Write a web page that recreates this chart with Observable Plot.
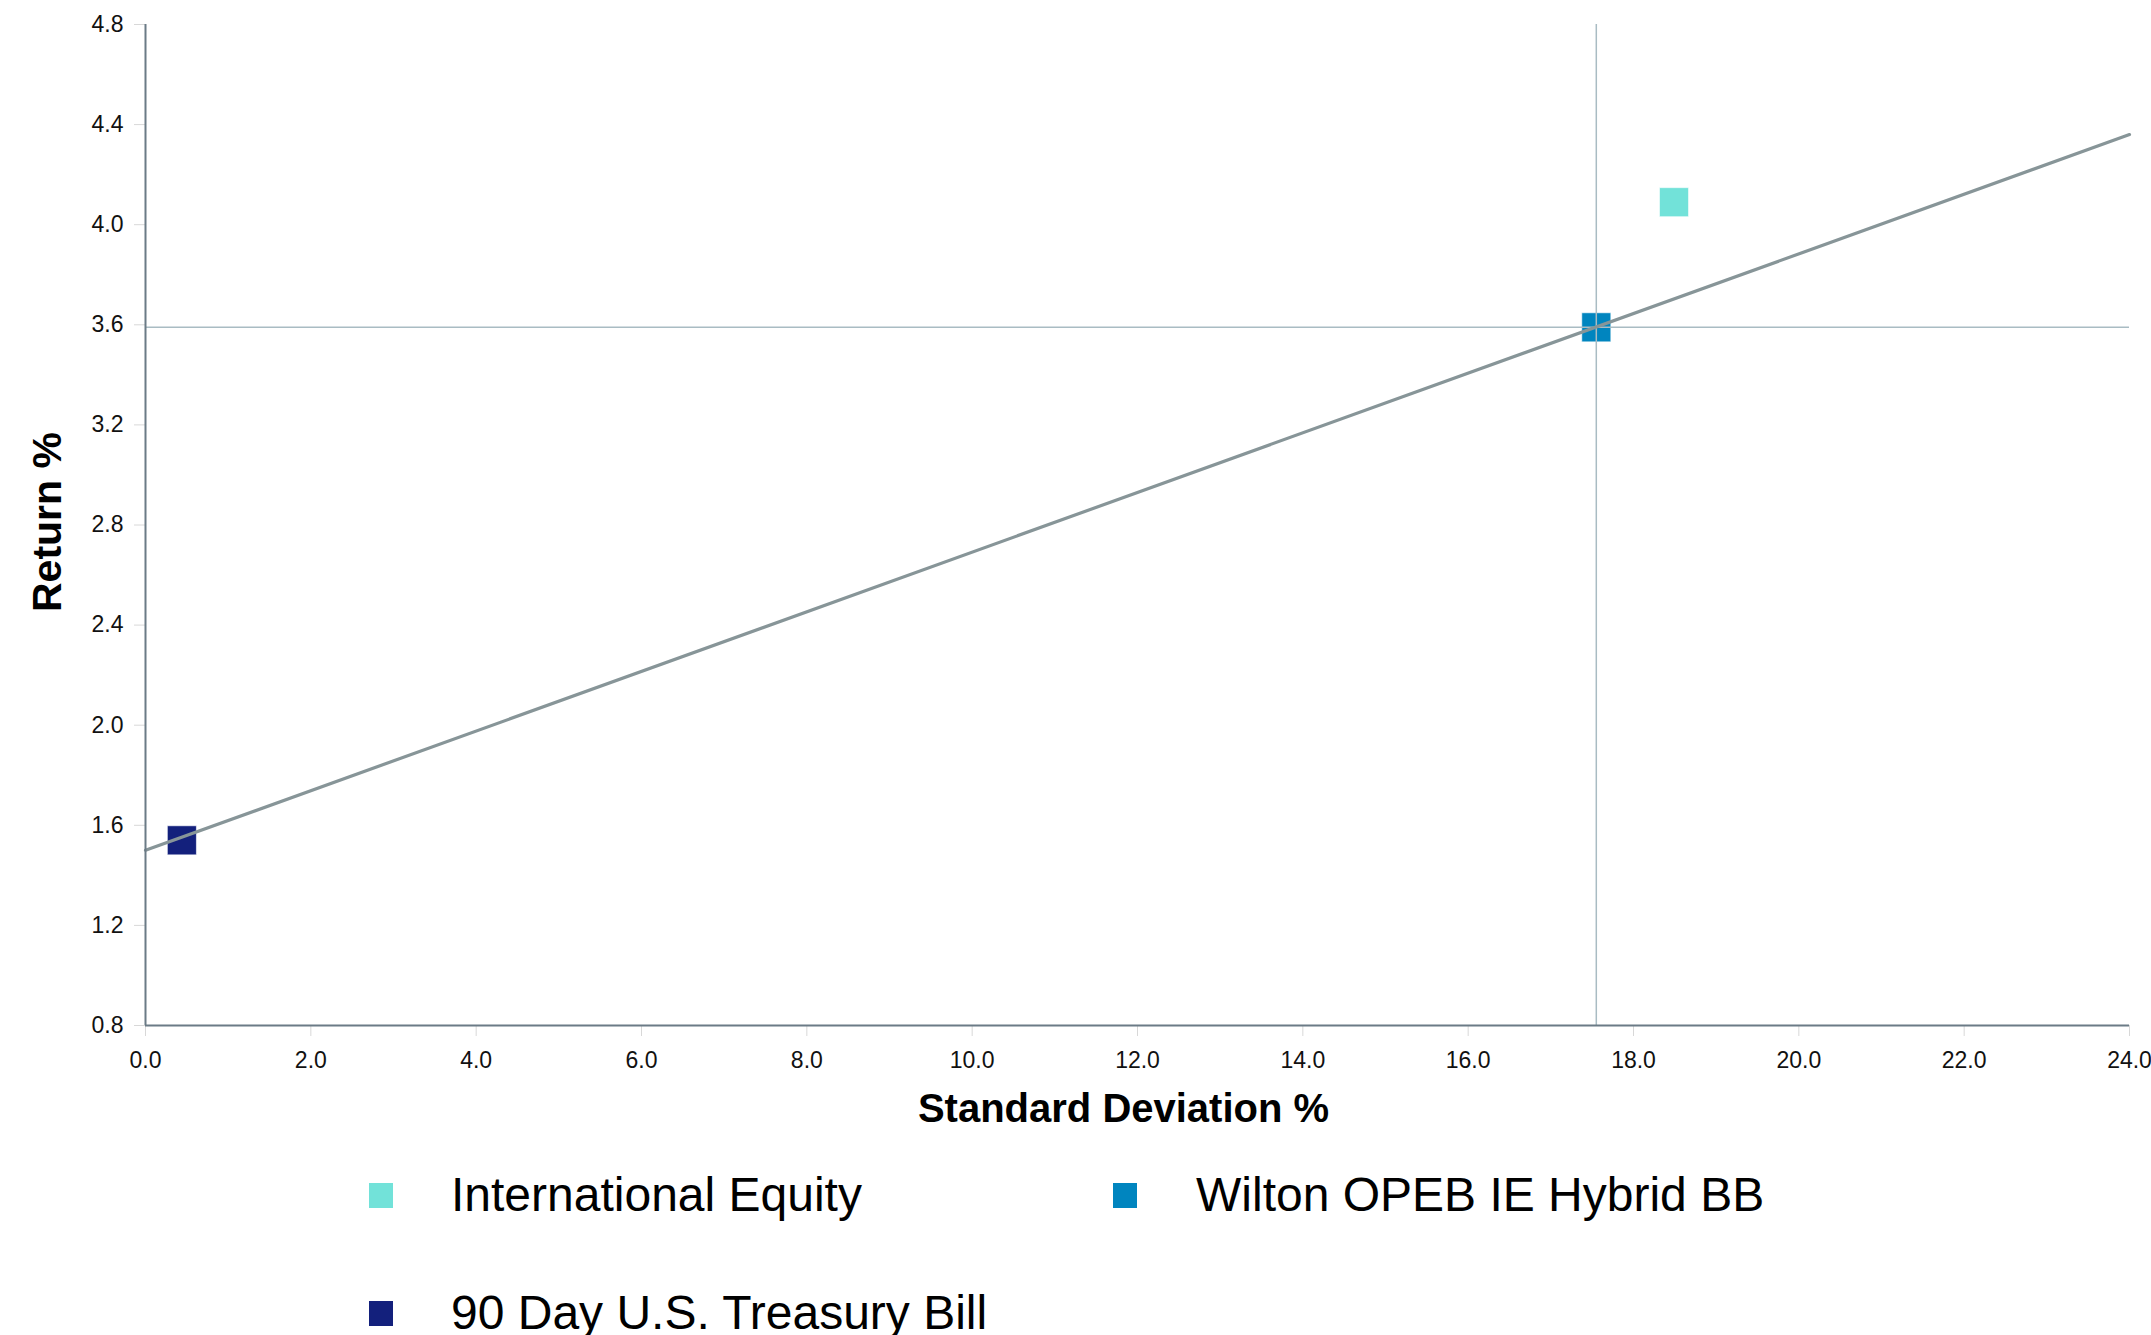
<!DOCTYPE html>
<html>
<head>
<meta charset="utf-8">
<script src="https://cdn.jsdelivr.net/npm/d3@7"></script>
<script src="https://cdn.jsdelivr.net/npm/@observablehq/plot@0.6"></script>
<style>
  html, body { margin: 0; padding: 0; background: #fff; }
  #wrap { position: relative; width: 2151px; height: 1335px; overflow: hidden; font-family: "Liberation Sans", Arial, sans-serif; }
  .lg-mark { position: absolute; width: 24px; height: 25px; }
  .lg-text { position: absolute; font-size: 48px; line-height: 48px; color: #000; white-space: nowrap; }
</style>
</head>
<body>
<div id="wrap"></div>
<script>
// ---- data ----
const seriesNames = ["International Equity", "Wilton OPEB IE Hybrid BB", "90 Day U.S. Treasury Bill"];
const stdDev = [18.49, 17.55, 0.44];
const returns = [4.09, 3.59, 1.54];
const seriesColors = ["#72e2d9", "#0085bf", "#13207c"];
const marketLineX = [0, 24];
const marketLineY = [1.50, 4.36];
const xTicks = [0, 2, 4, 6, 8, 10, 12, 14, 16, 18, 20, 22, 24];
const yTicks = [0.8, 1.2, 1.6, 2.0, 2.4, 2.8, 3.2, 3.6, 4.0, 4.4, 4.8];
const xTitle = "Standard Deviation %";
const yTitle = "Return %";
const benchmarkIndex = 1; // crosshair at Wilton OPEB IE Hybrid BB

const points = seriesNames.map((name, i) => ({name, sd: stdDev[i], ret: returns[i]}));
const linePts = marketLineX.map((x, i) => ({x, y: marketLineY[i]}));
const fmt = d3.format(".1f");
const axisColor = "#6b7b86";

const chart = Plot.plot({
  width: 2151,
  height: 1150,
  marginLeft: 145,
  marginRight: 22,
  marginTop: 24,
  marginBottom: 125,
  x: {domain: [0, 24]},
  y: {domain: [0.8, 4.8]},
  color: {domain: seriesNames, range: seriesColors},
  style: {fontFamily: '"Liberation Sans", Arial, sans-serif', fontSize: "23px", background: "white", color: "#111"},
  marks: [
    Plot.axisX({ticks: xTicks, tickFormat: fmt, tickSize: 11, tickPadding: 15, stroke: "#d8d8d8", fill: "#111", label: null}),
    Plot.axisY({ticks: yTicks, tickFormat: fmt, tickSize: 11, tickPadding: 11, stroke: "#d8d8d8", fill: "#111", label: null}),
    Plot.dot(points, {x: "sd", y: "ret", fill: "name", symbol: "square", r: 16.4, stroke: "white", strokeOpacity: 0.6, strokeWidth: 1}),
    Plot.ruleX([stdDev[benchmarkIndex]], {stroke: "#a9bcc3", strokeWidth: 1.5}),
    Plot.ruleY([returns[benchmarkIndex]], {stroke: "#a9bcc3", strokeWidth: 1.5}),
    Plot.line(linePts, {x: "x", y: "y", stroke: "#879598", strokeWidth: 3.2}),
    Plot.ruleX([0], {stroke: axisColor, strokeWidth: 2}),
    Plot.ruleY([0.8], {stroke: axisColor, strokeWidth: 2}),
    Plot.text([xTitle], {text: d => d, frameAnchor: "bottom", dx: -14, dy: 84, lineAnchor: "middle", fontSize: 40, fontWeight: "bold", fill: "#000"}),
    Plot.text([yTitle], {text: d => d, frameAnchor: "left", dx: -98, dy: -3, rotate: -90, textAnchor: "middle", lineAnchor: "middle", fontSize: 41, fontWeight: "bold", fill: "#000"})
  ]
});

const wrap = document.getElementById("wrap");
chart.style.position = "absolute";
chart.style.left = "0px";
chart.style.top = "0px";
wrap.appendChild(chart);

// ---- legend (HTML below the SVG) ----
const legendPos = [
  {mx: 369, my: 1183, tx: 451, ty: 1171},
  {mx: 1113, my: 1183, tx: 1196, ty: 1171},
  {mx: 369, my: 1301, tx: 451, ty: 1289}
];
seriesNames.forEach((name, i) => {
  const p = legendPos[i];
  const m = document.createElement("div");
  m.className = "lg-mark";
  m.style.left = p.mx + "px";
  m.style.top = p.my + "px";
  m.style.background = seriesColors[i];
  wrap.appendChild(m);
  const t = document.createElement("div");
  t.className = "lg-text";
  t.style.left = p.tx + "px";
  t.style.top = p.ty + "px";
  t.textContent = name;
  wrap.appendChild(t);
});
</script>
</body>
</html>
